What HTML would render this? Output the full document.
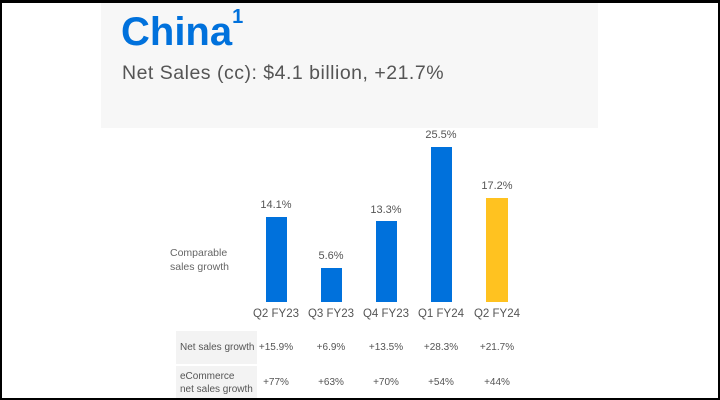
<!DOCTYPE html>
<html><head><meta charset="utf-8"><style>
body{margin:0;width:720px;height:400px;overflow:hidden;background:#fff;font-family:"Liberation Sans",sans-serif;}
#f{position:absolute;left:0;top:0;width:716px;height:395px;border:2px solid #000;border-top-width:3px;border-bottom-width:2px;}
.a{position:absolute;}
.bar{position:absolute;width:21px;background:#0071dc;}
.v{position:absolute;width:60px;text-align:center;font-size:11px;color:#555;}
.c{position:absolute;width:70px;text-align:center;font-size:11.5px;color:#555;top:308px;}
.t{position:absolute;width:70px;text-align:center;font-size:10px;color:#555;}
.cell{position:absolute;left:176px;width:81px;background:#f3f3f3;font-size:10px;color:#555;}
</style></head><body>
<div id="f"></div>
<div class="a" style="left:101px;top:3px;width:497px;height:125px;background:#f7f7f7;"></div>
<div class="a" style="left:121px;top:10px;font-size:40px;font-weight:bold;color:#0071dc;">China<sup style="font-size:20px;position:relative;top:-4px;vertical-align:top;">1</sup></div>
<div class="a" style="left:122px;top:62px;font-size:19.5px;letter-spacing:0.5px;color:#555;">Net Sales (cc): $4.1 billion, +21.7%</div>
<div class="a" style="left:170px;top:246px;font-size:10.5px;color:#666;line-height:14px;">Comparable<br>sales growth</div>
<div class="bar" style="left:266px;top:217px;height:85px"></div>
<div class="bar" style="left:321px;top:268px;height:34px"></div>
<div class="bar" style="left:376px;top:221px;height:81px"></div>
<div class="bar" style="left:431px;top:147px;height:155px"></div>
<div class="bar" style="left:486px;top:198px;height:104px;width:22px;background:#ffc220"></div>
<div class="v" style="left:246px;top:199px">14.1%</div>
<div class="v" style="left:301px;top:250px">5.6%</div>
<div class="v" style="left:356px;top:204px">13.3%</div>
<div class="v" style="left:411px;top:129px">25.5%</div>
<div class="v" style="left:467px;top:180px">17.2%</div>
<div class="c" style="left:241px">Q2 FY23</div>
<div class="c" style="left:296px">Q3 FY23</div>
<div class="c" style="left:351px">Q4 FY23</div>
<div class="c" style="left:406px">Q1 FY24</div>
<div class="c" style="left:462px">Q2 FY24</div>
<div class="cell" style="top:331px;height:33px;line-height:33px;padding-left:4px;box-sizing:border-box;">Net sales growth</div>
<div class="cell" style="top:366px;height:32px;padding:4px 0 0 4px;box-sizing:border-box;line-height:13px;">eCommerce<br>net sales growth</div>
<div class="t" style="left:241px;top:342px">+15.9%</div>
<div class="t" style="left:296px;top:342px">+6.9%</div>
<div class="t" style="left:351px;top:342px">+13.5%</div>
<div class="t" style="left:406px;top:342px">+28.3%</div>
<div class="t" style="left:462px;top:342px">+21.7%</div>
<div class="t" style="left:241px;top:377px">+77%</div>
<div class="t" style="left:296px;top:377px">+63%</div>
<div class="t" style="left:351px;top:377px">+70%</div>
<div class="t" style="left:406px;top:377px">+54%</div>
<div class="t" style="left:462px;top:377px">+44%</div>
</body></html>
